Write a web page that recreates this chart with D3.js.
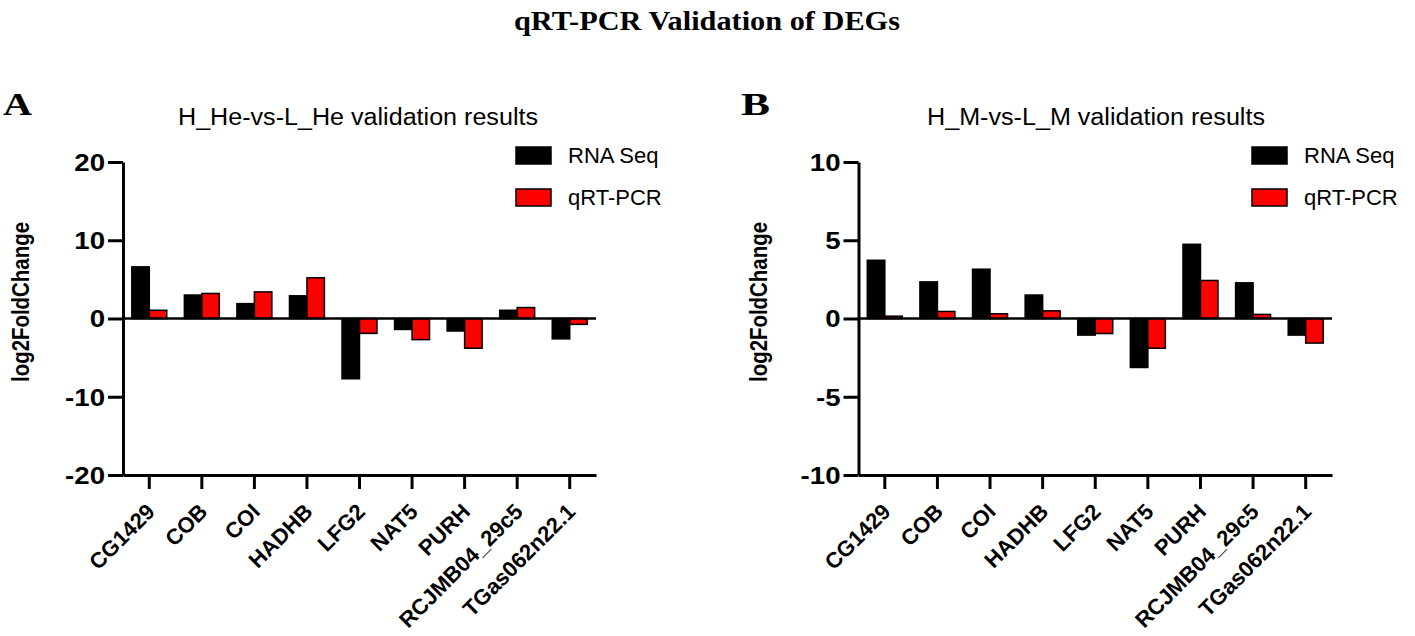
<!DOCTYPE html>
<html>
<head>
<meta charset="utf-8">
<script src="https://cdn.jsdelivr.net/npm/d3@7"></script>
<style>
  html, body { margin: 0; padding: 0; background: #fff; }
  svg { display: block; }
</style>
</head>
<body>
<svg id="chart" width="1415" height="636"></svg>
<script>
// ---------------- DATA ----------------
const categories = ["CG1429", "COB", "COI", "HADHB", "LFG2", "NAT5", "PURH", "RCJMB04_29c5", "TGas062n22.1"];
const seriesNames = ["RNA Seq", "qRT-PCR"];
const rnaSeqA = [6.6, 3.0, 1.9, 2.9, -7.7, -1.4, -1.6, 1.05, -2.6];
const qpcrA   = [1.05, 3.2, 3.4, 5.2, -1.9, -2.7, -3.8, 1.4, -0.75];
const rnaSeqB = [3.72, 2.34, 3.15, 1.5, -1.06, -3.13, 4.74, 2.28, -1.06];
const qpcrB   = [0.15, 0.45, 0.3, 0.49, -0.96, -1.9, 2.43, 0.26, -1.57];
const yTicksA = [-20, -10, 0, 10, 20];
const yTicksB = [-10, -5, 0, 5, 10];
const mainTitle = "qRT-PCR Validation of DEGs";
const panelLetters = ["A", "B"];
const panelTitles = ["H_He-vs-L_He validation results", "H_M-vs-L_M validation results"];
const yLabel = "log2FoldChange";
const colors = ["#000000", "#ff0000"];

// ---------------- LAYOUT ----------------
const svg = d3.select("#chart");
const SANS = "'Liberation Sans', Arial, sans-serif";
const SERIF = "'Liberation Serif', 'Times New Roman', serif";

svg.append("text")
  .attr("x", 514).attr("y", 30)
  .attr("textLength", 386).attr("lengthAdjust", "spacingAndGlyphs")
  .style("font-family", SERIF).style("font-weight", "bold").style("font-size", "27px")
  .text(mainTitle);

const panels = [
  { x0: 123, x1: 596, top: 162, bottom: 475, domain: [-20, 20], ticks: yTicksA,
    rna: rnaSeqA, qpcr: qpcrA, letterX: 3, letterW: 29, titleX: 178, titleW: 360, yLabX: 29 },
  { x0: 858.5, x1: 1332, top: 162, bottom: 475, domain: [-10, 10], ticks: yTicksB,
    rna: rnaSeqB, qpcr: qpcrB, letterX: 741, letterW: 29, titleX: 927, titleW: 338, yLabX: 767 }
];

panels.forEach((p, pi) => {
  const g = svg.append("g");

  // panel letter
  g.append("text")
    .attr("x", p.letterX).attr("y", 115)
    .attr("textLength", p.letterW).attr("lengthAdjust", "spacingAndGlyphs")
    .style("font-family", SERIF).style("font-weight", "bold").style("font-size", "32px")
    .text(panelLetters[pi]);

  // panel title
  g.append("text")
    .attr("x", p.titleX).attr("y", 125)
    .attr("textLength", p.titleW).attr("lengthAdjust", "spacingAndGlyphs")
    .style("font-family", SANS).style("font-size", "23px")
    .text(panelTitles[pi]);

  const y = d3.scaleLinear().domain(p.domain).range([p.bottom, p.top]);
  const x = d3.scaleBand().domain(categories).range([p.x0, p.x1])
    .paddingInner(0.335).paddingOuter(0.1675);
  const xs = d3.scaleBand().domain(seriesNames).range([0, x.bandwidth()]);

  // bars
  const data = categories.map((c, i) => ({ c, vals: [p.rna[i], p.qpcr[i]] }));
  const grp = g.selectAll("g.grp").data(data).enter().append("g")
    .attr("transform", d => `translate(${x(d.c)},0)`);
  grp.selectAll("rect").data(d => d.vals.map((v, k) => ({ v, k })))
    .enter().append("rect")
    .attr("x", d => xs(seriesNames[d.k]))
    .attr("y", d => y(Math.max(0, d.v)))
    .attr("width", xs.bandwidth())
    .attr("height", d => Math.abs(y(d.v) - y(0)))
    .attr("fill", d => colors[d.k])
    .attr("stroke", "#000").attr("stroke-width", 1.5);

  // zero line
  g.append("line")
    .attr("x1", p.x0).attr("x2", p.x1)
    .attr("y1", y(0)).attr("y2", y(0))
    .attr("stroke", "#000").attr("stroke-width", 2.5);

  // y axis
  const ya = g.append("g").attr("transform", `translate(${p.x0},0)`)
    .call(d3.axisLeft(y).tickValues(p.ticks).tickSize(15).tickSizeOuter(0).tickFormat(d => String(d)));
  ya.select(".domain").attr("stroke-width", 3);
  ya.selectAll(".tick line").attr("stroke-width", 3);
  ya.selectAll(".tick text")
    .attr("x", 0).attr("dy", "0.36em")
    .attr("transform", "translate(-18,0) scale(1.2,1)")
    .style("font-family", SANS).style("font-weight", "bold").style("font-size", "23px")
    .attr("fill", "#000");

  // x axis
  const xa = g.append("g").attr("transform", `translate(0,${p.bottom})`)
    .call(d3.axisBottom(x).tickSize(14).tickSizeOuter(0));
  xa.select(".domain").attr("stroke-width", 3);
  xa.selectAll(".tick line").attr("stroke-width", 3);
  xa.selectAll(".tick text")
    .attr("x", 0).attr("y", 0).attr("dy", 0)
    .attr("transform", "translate(7,38) rotate(-45)")
    .style("text-anchor", "end")
    .style("font-family", SANS).style("font-weight", "bold").style("font-size", "22px")
    .attr("fill", "#000");

  // y label
  g.append("text")
    .attr("transform", `translate(${p.yLabX},302) rotate(-90)`)
    .attr("x", -80).attr("textLength", 160).attr("lengthAdjust", "spacingAndGlyphs")
    .style("font-family", SANS).style("font-weight", "bold").style("font-size", "23px")
    .text(yLabel);

  // legend
  const lx = p.x1 - 80;
  seriesNames.forEach((s, k) => {
    const ly = 147 + k * 42;
    g.append("rect").attr("x", lx).attr("y", ly).attr("width", 35).attr("height", 17)
      .attr("fill", colors[k]).attr("stroke", "#000").attr("stroke-width", 1.5);
    g.append("text").attr("x", lx + 52).attr("y", ly + 8.5).attr("dy", "0.36em")
      .style("font-family", SANS).style("font-size", "22px")
      .text(s);
  });
});
</script>
</body>
</html>
